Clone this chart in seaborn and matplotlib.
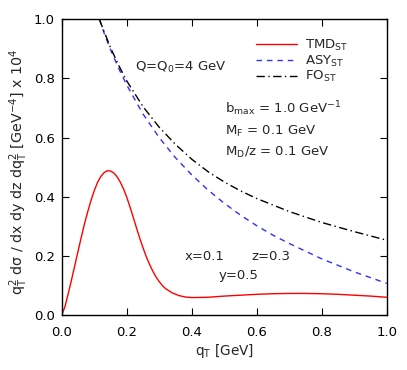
import numpy as np
import pandas as pd
import matplotlib
matplotlib.use("Agg")
import matplotlib.pyplot as plt
import seaborn as sns

# ---- data ----
tmd_x = [0.0, 0.01, 0.02, 0.03, 0.04, 0.05, 0.06, 0.07, 0.08, 0.09, 0.10, 0.11, 0.12,
         0.13, 0.14, 0.15, 0.16, 0.17, 0.18, 0.19, 0.20, 0.21, 0.22, 0.23, 0.24, 0.25,
         0.26, 0.27, 0.28, 0.29, 0.30, 0.31, 0.32, 0.34, 0.36, 0.38, 0.40, 0.45, 0.50, 0.55,
         0.60, 0.65, 0.70, 0.75, 0.80, 0.85, 0.90, 0.95, 1.0]
tmd_y = [0.0, 0.028, 0.072, 0.118, 0.166, 0.214, 0.262, 0.308, 0.349, 0.387, 0.42, 0.448, 0.468,
         0.481, 0.488, 0.487, 0.481, 0.468, 0.450, 0.427, 0.399, 0.366, 0.331, 0.295, 0.26, 0.228,
         0.198, 0.172, 0.149, 0.129, 0.113, 0.099, 0.089, 0.075, 0.066, 0.061, 0.059, 0.060, 0.064,
         0.067, 0.070, 0.072, 0.073, 0.073, 0.072, 0.070, 0.067, 0.064, 0.060]

asy_x = [0.116, 0.13, 0.15, 0.175, 0.2, 0.25, 0.3, 0.35, 0.4, 0.45, 0.5, 0.55, 0.6, 0.65,
         0.7, 0.8, 0.9, 1.0]
asy_y = [1.0, 0.955, 0.898, 0.835, 0.778, 0.68, 0.600, 0.532, 0.474, 0.423, 0.378, 0.338,
         0.302, 0.27, 0.242, 0.19, 0.146, 0.107]

fo_x = [0.116, 0.13, 0.15, 0.175, 0.2, 0.25, 0.3, 0.35, 0.4, 0.45, 0.5, 0.55, 0.6, 0.7,
        0.8, 0.9, 1.0]
fo_y = [1.0, 0.96, 0.905, 0.845, 0.792, 0.705, 0.635, 0.577, 0.527, 0.485, 0.45, 0.42,
        0.394, 0.35, 0.313, 0.282, 0.253]

series_names = ["TMD$_\\mathrm{ST}$", "ASY$_\\mathrm{ST}$", "FO$_\\mathrm{ST}$"]
x_ticks = [0.0, 0.2, 0.4, 0.6, 0.8, 1.0]
y_ticks = [0.0, 0.2, 0.4, 0.6, 0.8, 1.0]

df = pd.concat([
    pd.DataFrame({"qT": tmd_x, "val": tmd_y, "series": series_names[0]}),
    pd.DataFrame({"qT": asy_x, "val": asy_y, "series": series_names[1]}),
    pd.DataFrame({"qT": fo_x, "val": fo_y, "series": series_names[2]}),
], ignore_index=True)

sns.set_style("ticks")
plt.rcParams["font.family"] = ["DejaVu Sans"]
plt.rcParams["mathtext.fontset"] = "dejavusans"
plt.rcParams["mathtext.default"] = "regular"

fig = plt.figure(figsize=(4.07, 3.70), dpi=100)
ax = fig.add_axes([0.1516, 0.1486, 0.7985, 0.7992])

styles = {
    series_names[0]: dict(color="#ff0000", dashes=None),
    series_names[1]: dict(color="#3030ff", dashes=(4, 3.5)),
    series_names[2]: dict(color="black", dashes=(6, 2.5, 1, 2.5)),
}
for name in series_names:
    sub = df[df["series"] == name]
    st = styles[name]
    sns.lineplot(data=sub, x="qT", y="val", ax=ax, estimator=None, sort=False,
                 color=st["color"], linewidth=1.0, label=name)
    line = ax.lines[-1]
    if st["dashes"] is not None:
        line.set_dashes(st["dashes"])

ax.set_xlim(0, 1)
ax.set_ylim(0, 1)
ax.set_xticks(x_ticks)
ax.set_yticks(y_ticks)
ax.set_xticklabels([f"{t:.1f}" for t in x_ticks])
ax.set_yticklabels([f"{t:.1f}" for t in y_ticks])
ax.tick_params(axis="both", direction="in", length=5, width=0.8, top=True, right=True,
               labelsize=9.5, colors="black")
ax.tick_params(axis="x", pad=8)
ax.tick_params(axis="y", pad=5)
for s in ax.spines.values():
    s.set_visible(True)
    s.set_linewidth(1.0)
    s.set_color("black")

ax.set_xlabel("q$_\\mathrm{T}$ [GeV]", fontsize=9.8, labelpad=2)
ax.set_ylabel("q$_\\mathrm{T}^2$ d\u03c3 / dx dy dz dq$_\\mathrm{T}^2$ [GeV$^{-4}$] x 10$^4$",
              fontsize=10.3)
ax.yaxis.set_label_coords(-0.098, 0.484)

leg = ax.legend(loc="upper left", frameon=False, fontsize=9.5, handlelength=3.1,
                handletextpad=0.6, labelspacing=0.05, bbox_to_anchor=(0.597, 0.938),
                borderaxespad=0.0, borderpad=0.0)

fs = 9.5
ax.text(0.2255, 0.836, "Q=Q$_0$=4 GeV", fontsize=fs, va="center", ha="left")
ax.text(0.502, 0.699, "b$_\\mathrm{max}$ = 1.0 GeV$^{-1}$", fontsize=fs, va="center", ha="left")
ax.text(0.502, 0.622, "M$_\\mathrm{F}$ = 0.1 GeV", fontsize=fs, va="center", ha="left")
ax.text(0.502, 0.549, "M$_\\mathrm{D}$/z = 0.1 GeV", fontsize=fs, va="center", ha="left")
ax.text(0.377, 0.197, "x=0.1", fontsize=fs, va="center", ha="left")
ax.text(0.585, 0.197, "z=0.3", fontsize=fs, va="center", ha="left")
ax.text(0.482, 0.134, "y=0.5", fontsize=fs, va="center", ha="left")

fig.savefig("out.png", dpi=100)
